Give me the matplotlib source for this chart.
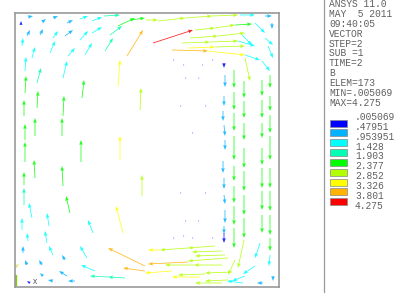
import numpy as np
import matplotlib.pyplot as plt
from matplotlib.colors import ListedColormap, BoundaryNorm
from matplotlib.patches import Rectangle

# legend bands of the B magnitude
levels = [0.005069, 0.47951, 0.953951, 1.428, 1.903, 2.377, 2.852, 3.326, 3.801, 4.275]
level_labels = ['.005069', '.47951', '.953951', '1.428', '1.903',
                '2.377', '2.852', '3.326', '3.801', '4.275']
band_colors = ['#0000ff', '#00b2ff', '#00ffff', '#00ffb2', '#00ff00',
               '#b2ff00', '#ffff00', '#ffb200', '#ff0000']
header = ['ANSYS 11.0', 'MAY  5 2011', '09:40:05', 'VECTOR', 'STEP=2',
          'SUB =1', 'TIME=2', 'B', 'ELEM=173', 'MIN=.005069', 'MAX=4.275']

# vector plot: tail position (x, y), components (u, v), magnitude b
# left / upper-left part of the loop
x = [6, 13, 27, 38, 52, 65, 77, 89, 95, 103, 115,
     12, 25, 38, 50, 65, 77, 90,
     7, 17, 35, 53, 70, 112,
     10, 22, 48, 67, 103,
     10, 22, 9, 10, 125, 20, 48, 47, 105, 10, 66,
     20, 48, 9, 9, 127, 55, 17, 34, 7, 108, 78,
     13, 32, 38, 72, 8, 50, 27, 12, 80, 52, 28,
     110, 93, 38, 60, 15, 130, 130]
y = [262, 270, 265, 269, 264, 268, 266, 271, 252, 261, 267,
     251, 252, 249, 251, 247, 254, 236,
     241, 229, 234, 231, 232, 231,
     216, 204, 209, 189, 201,
     194, 179, 171, 147, 177, 151, 171, 151, 127, 125, 125,
     109, 101, 102, 82, 91, 74, 69, 61, 57, 54, 54,
     46, 44, 32, 29, 34, 27, 22, 22, 16, 11, 11,
     9, 10, 6, 6, 4, 21, 16]
u = [0, 5, 4, 5, 6, 8, 10, 16, 12, 17, 15,
     3, 3, 5, 8, 8, 10, 8,
     1, 3, 5, 7, 7, 16,
     1, 4, 4, 2, 2,
     1, 1, 0, 0, 1, 0, 1, 0, 0, 0, 0,
     -1, -1, 0, 0, 0, -4, -3, -2, 0, -7, -5,
     -1, -2, -4, -7, 0, -3, -3, -2, -14, -8, -3,
     -17, -18, -5, -7, -3, -37, -22]
v = [4, 1, 3, 2, 3, 3, 4, 1, 9, 8, 2,
     6, 6, 7, 6, 9, 6, 13,
     8, 11, 12, 8, 12, 26,
     14, 15, 17, 18, 26,
     17, 17, 16, 16, 22, 18, 20, 18, 24, 20, 22,
     18, 20, 13, 17, 21, 17, 15, 13, 12, 27, 13,
     8, 12, 9, 12, 7, 5, 5, 5, 6, 5, 3,
     1, 1, 1, 0, 2, 18, 3]
b = [0.3, 0.6, 0.8, 0.9, 0.9, 1.0, 1.2, 1.5, 1.8, 2.0, 2.2,
     0.8, 0.9, 1.0, 0.9, 1.1, 1.2, 1.5,
     1.0, 1.2, 1.3, 1.3, 1.4, 3.6,
     1.4, 1.6, 1.4, 2.0, 3.0,
     2.0, 2.1, 2.1, 2.1, 2.6, 2.1, 2.1, 2.1, 2.9, 2.1, 2.1,
     2.1, 2.1, 2.0, 1.9, 2.6, 2.0, 1.3, 1.2, 1.1, 3.0, 1.3,
     1.0, 1.1, 1.0, 1.2, 0.8, 0.8, 0.7, 0.6, 1.3, 0.9, 0.6,
     1.6, 1.5, 0.6, 0.8, 0.4, 3.5, 3.4]

# top band flowing right
x += [131, 143, 170, 197, 225, 250, 138, 180, 200, 220, 240, 257,
      175, 203, 227, 250, 167, 195, 223, 253, 173, 200, 157, 193, 230, 230, 247]
y += [267, 266, 269, 271, 272, 271, 244, 257, 259, 262, 264, 264,
      249, 251, 252, 249, 244, 245, 246, 241, 239, 240, 237, 236, 232, 229, 226]
u += [12, 27, 27, 26, 15, 7, 40, 20, 20, 17, 10, 0,
      28, 27, 10, 8, 28, 28, 17, 5, 27, 30, 36, 37, 15, 5, 8]
v += [0, 3, 2, 1, 0, 0, 13, 2, 3, 1, -10, -6,
      2, 3, -10, -7, 1, 1, -5, -12, 1, 1, -1, -4, -5, -23, -10]
b += [2.4, 2.7, 2.6, 2.4, 1.3, 0.8, 4.1, 2.7, 2.6, 2.1, 1.3, 0.8,
      2.7, 2.6, 1.3, 1.2, 2.7, 2.6, 1.4, 1.3, 2.9, 2.6, 3.5, 3.0, 1.4, 2.5, 1.3]

# right side flowing down
x += [219] * 8 + [229] * 7 + [247] * 7 + [255] * 8
y += [217, 195, 174, 151, 121, 101, 81, 59,
      206, 186, 164, 139, 116, 92, 69,
      207, 187, 164, 139, 119, 96, 72,
      212, 191, 172, 151, 119, 96, 72, 49]
u += [0] * 30
v += [-18, -18, -18, -24, -15, -17, -19, -20,
      -17, -17, -17, -20, -20, -20, -20,
      -16, -18, -15, -17, -20, -19, -18,
      -13, -15, -18, -24, -20, -20, -20, -13]
b += [2.1] * 22 + [2.0] * 8

# slow column along the inner edge
x += [209, 210, 209, 208, 209, 210, 208, 209, 209, 210, 209, 209]
y += [224, 212, 191, 176, 162, 147, 126, 109, 92, 77, 61, 54]
u += [0, 0, 0, 0, 1, 0, 0, 0, 1, 0, 0, 0]
v += [-5, -12, -10, -10, -11, -10, -12, -11, -9, -13, -8, -10]
b += [0.3, 0.9, 0.9, 0.8, 0.8, 0.8, 0.8, 0.8, 0.7, 0.7, 0.6, 0.4]

# bottom-right corner and bottom band flowing left
x += [229, 220, 245, 255, 240, 230, 258, 248, 228,
      200, 173, 145, 207, 210, 213, 173, 207, 179, 217, 190, 185, 213, 207, 157]
y += [47, 27, 44, 32, 21, 11, 11, 4, 4,
      41, 39, 37, 36, 32, 29, 25, 22, 22, 15, 13, 10, 7, 4, 16]
u += [-6, -7, -5, -1, -12, -13, 0, -6, -16,
      -27, -28, -12, -30, -30, -40, -40, -28, -29, -27, -27, -28, -23, -27, -27]
v += [-28, -15, -15, -11, -8, -5, -5, 0, 2,
      -2, -2, 0, -1, -1, -3, -2, 0, 0, -1, -1, 0, -1, 0, -2]
b += [2.6, 2.4, 1.3, 1.1, 1.2, 1.3, 0.6, 0.7, 1.4,
      2.6, 2.7, 3.0, 2.6, 2.5, 2.8, 3.4, 2.6, 2.7, 2.6, 2.7, 2.9, 2.5, 2.4, 3.1]

# near-zero vectors in the middle
xc = [158, 168, 187, 197, 170, 183, 165, 190, 177, 165, 190, 170, 183, 158, 168, 177, 197]
yc = [227, 222, 222, 227, 209, 209, 181, 181, 154, 94, 94, 66, 66, 49, 51, 49, 49]
uc = [1.5] * 17
vc = [0] * 17
bc = [0.15] * 17

W, H = 398, 293
fig = plt.figure(figsize=(W / 100, H / 100), dpi=100)

cmap = ListedColormap(band_colors)
norm = BoundaryNorm(levels, cmap.N, clip=True)

ax = fig.add_axes([15 / W, 6 / H, 264 / W, 274 / H])
qkw = dict(cmap=cmap, norm=norm, angles='xy', scale_units='xy', scale=1,
           units='dots', pivot='tail')
ax.quiver(x, y, u, v, b, width=0.8, headwidth=4.5, headlength=6,
          headaxislength=5.5, alpha=0.85, **qkw)
ax.quiver(xc, yc, uc, vc, bc, width=0.8, headwidth=2, headlength=2,
          headaxislength=2, alpha=0.45, **qkw)
ax.set_xlim(0, 264)
ax.set_ylim(0, 274)
ax.set_xticks([])
ax.set_yticks([])
for s in ax.spines.values():
    s.set_color('#999999')
    s.set_linewidth(1.2)

# triad in the corner
ax.text(20, 4, 'X', fontsize=5, color='#444444', va='center', ha='center',
        family='Liberation Mono')
ax.text(2, 20, 'Y', fontsize=4.5, color='#c8c800', va='center', ha='center',
        family='Liberation Mono')
ax.plot([1, 1], [1, 12], color='#80d000', lw=1.6, solid_capstyle='butt')

# legend panel drawn in pixel coordinates
lax = fig.add_axes([0, 0, 1, 1], zorder=-1)
lax.set_xlim(0, W)
lax.set_ylim(H, 0)
lax.axis('off')
lax.plot([324, 324], [0, H], color='#999999', lw=0.9)

mono = dict(family='Liberation Mono', fontsize=6.9, color='#606060', va='center')
for i, line in enumerate(header):
    lax.text(329, 4 + 9.9 * i, line, **mono)
for i, lab in enumerate(level_labels):
    lax.text(355, 117 + 9.85 * i, lab, **mono)
for i, c in enumerate(band_colors):
    lax.add_patch(Rectangle((330, 119.5 + 9.85 * i), 17, 7, facecolor=c,
                            edgecolor='#888888', lw=0.5))

fig.savefig('out.png', dpi=100)
